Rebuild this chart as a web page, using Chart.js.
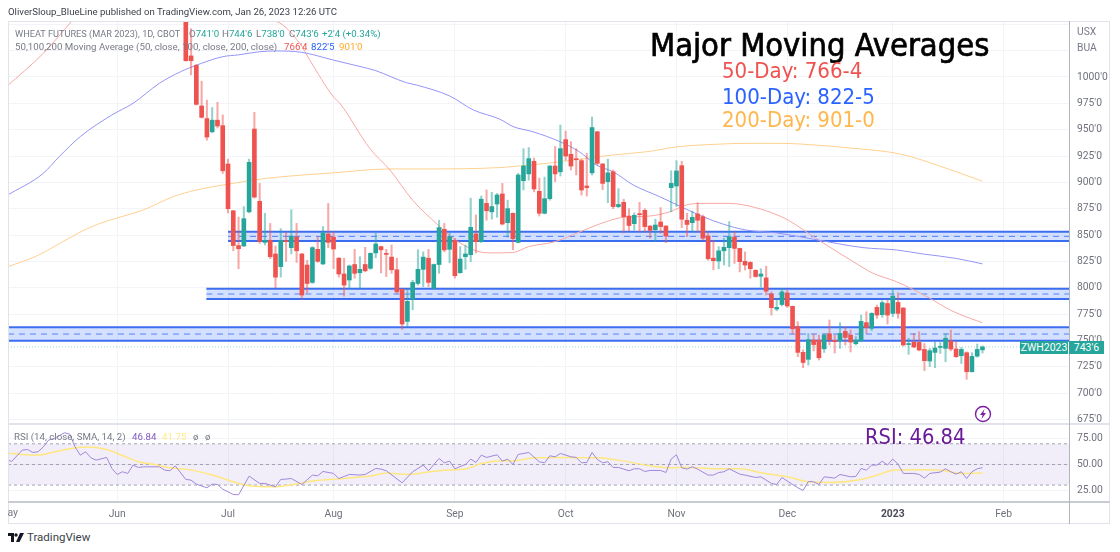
<!DOCTYPE html>
<html>
<head>
<meta charset="utf-8">
<script src="https://cdn.jsdelivr.net/npm/chart.js@4"></script>
<style>
  html, body { margin: 0; padding: 0; background: #fff; }
  #page { position: relative; width: 1120px; height: 552px; overflow: hidden; font-family: Roboto, sans-serif; }
  canvas { position: absolute; left: 0; }
  .t { position: absolute; white-space: nowrap; line-height: 1; }
  .rule { position: absolute; background: #e0e3eb; }
  .leg { font-size: 9.7px; color: #787b86; }
  .big { font-family: "DejaVu Sans Condensed", "DejaVu Sans", sans-serif; }
</style>
</head>
<body>
<div id="page">
  <canvas id="priceChart" width="1120" height="424" style="top:0"></canvas>
  <canvas id="rsiChart" width="1120" height="100" style="top:424px"></canvas>

  <div class="rule" style="left:8px;top:21px;width:1102px;height:1px"></div>
  <div class="rule" style="left:8px;top:21px;width:1px;height:503px"></div>
  <div class="rule" style="left:8px;top:523px;width:1102px;height:1px"></div>
  <div class="rule" style="left:1109px;top:21px;width:1px;height:503px"></div>
  <div class="rule" style="left:8px;top:423px;width:1102px;height:2px"></div>
  <div class="rule" style="left:8px;top:501px;width:1102px;height:2px;background:#c9cbd3"></div>
  <div class="rule" style="left:1069px;top:21px;width:1px;height:503px;background:#b2b5be"></div>

  <div class="t" style="left:8px;top:7px;font-size:9.65px;color:#3c3f48">OliverSloup_BlueLine published on TradingView.com, Jan 26, 2023 12:26 UTC</div>

  <div class="t leg" style="left:15px;top:29px;font-size:9.2px">WHEAT FUTURES (MAR 2023), 1D, CBOT</div>
  <div class="t leg" style="left:189px;top:29px">O<span style="color:#26a69a">741'0</span></div>
  <div class="t leg" style="left:222px;top:29px">H<span style="color:#26a69a">744'6</span></div>
  <div class="t leg" style="left:256px;top:29px">L<span style="color:#26a69a">738'0</span></div>
  <div class="t leg" style="left:289px;top:29px">C<span style="color:#26a69a">743'6</span></div>
  <div class="t leg" style="left:322px;top:29px;color:#26a69a">+2'4 (+0.34%)</div>
  <div class="t leg" style="left:15px;top:42px">50,100,200 Moving Average (50, close, 100, close, 200, close)</div>
  <div class="t leg" style="left:284px;top:42px;color:#ef5350">766'4</div>
  <div class="t leg" style="left:311px;top:42px;color:#2962ff">822'5</div>
  <div class="t leg" style="left:339px;top:42px;color:#ffa726">901'0</div>

  <div class="t leg" style="left:14px;top:432px">RSI (14, close, SMA, 14, 2)</div>
  <div class="t leg" style="left:132px;top:432px;color:#7e57c2">46.84</div>
  <div class="t leg" style="left:162px;top:432px;color:#ffeb80">41.75</div>
  <div class="t leg" style="left:193px;top:432px">ø</div>
  <div class="t leg" style="left:205px;top:432px">ø</div>

  <div class="t" style="left:1077px;top:27px;font-size:10.3px;color:#787b86">USX</div>
  <div class="t" style="left:1077px;top:43px;font-size:10.3px;color:#787b86">BUA</div>

  <div class="t big" style="left:650px;top:29px;font-size:32.4px;color:#000;-webkit-text-stroke:.7px #000">Major Moving Averages</div>
  <div class="t big" style="left:722px;top:60px;font-size:22px;color:#ef5350">50-Day: 766-4</div>
  <div class="t big" style="left:722px;top:86px;font-size:22px;color:#2962ff">100-Day: 822-5</div>
  <div class="t big" style="left:722px;top:109px;font-size:22px;color:#ffb74d">200-Day: 901-0</div>
  <div class="t big" style="left:865px;top:426px;font-size:21.7px;color:#6a1b9a">RSI: 46.84</div>

  <div class="t" style="left:1020px;top:341px;width:48px;height:13px;line-height:13px;background:#26a69a;color:#fff;font-size:10.5px;text-align:center">ZWH2023</div>
  <div class="t" style="left:1069px;top:341px;width:35px;height:13px;line-height:13px;background:#26a69a;color:#fff;font-size:10.5px;text-align:center">743'6</div>

  <svg style="position:absolute;left:974px;top:405px" width="18" height="18" viewBox="0 0 18 18">
    <circle cx="9" cy="9" r="7.5" fill="#fff" stroke="#7b1fa2" stroke-width="1.4"/>
    <path d="M10.5 4 L6 10 H8.6 L7.5 14 L12 8 H9.4 Z" fill="#7b1fa2"/>
  </svg>

  <div class="t" style="left:8px;top:508px;width:10px;overflow:hidden;direction:rtl;font-size:10.5px;color:#787b86">May</div>

  <svg style="position:absolute;left:8px;top:533px" width="16" height="10" viewBox="0 0 16 10">
    <path d="M0 0 H6 V9 H3 V3 H0 Z" fill="#131722"/>
    <circle cx="8" cy="2" r="1.7" fill="#131722"/>
    <path d="M12 0 H16 L11.5 9 H8 Z" fill="#131722"/>
  </svg>
  <div class="t" style="left:27px;top:532px;font-size:11.5px;color:#3c3f48">TradingView</div>
</div>

<script>
// candles, bar 0 is the one running off the top of the pane
const opens = [
  1075, 1020, 1011, 972.5, 960.5, 948, 959, 953.8, 917.4, 873,
  840, 839.6, 872, 950.6, 882, 843, 845, 832, 820, 844.3,
  838, 848, 832, 821.5, 805, 836.4, 822.5, 851, 848, 828,
  813, 807.3, 822, 814.2, 822, 818.4, 833, 839, 832.3, 829,
  817, 798.4, 768, 789, 804, 817.4, 828, 799.4, 822, 855.4,
  836.4, 845, 814.2, 829.4, 831.3, 851, 843.7, 880, 872, 879.4,
  889, 861.7, 870.6, 843, 901.6, 908, 920, 891.5, 870.6, 884.5,
  915.5, 910, 940.5, 926.6, 922, 920.6, 896.5, 909, 948, 917.4,
  900.6, 910, 877, 881, 868, 860.8, 870, 873.4, 858.5, 855,
  862.3, 858.5, 895, 896.5, 915.8, 864, 861.7, 870, 867.4, 849,
  828, 825.3, 835, 838, 848, 837.3, 825, 824, 816.5, 810.8,
  809.3, 794, 779.7, 784, 795, 782.3, 763, 738.6, 732, 750.3,
  750.3, 742, 756.3, 750, 749.7, 758.5, 755, 746.8, 749.7, 766.8,
  761.4, 781.3, 774.4, 785, 775.6, 786, 780.7, 746, 748.4, 748,
  741.4, 730.4, 738.6, 743.3, 742.4, 749.4, 741.8, 735.4, 738.3, 720.2,
  735, 741
];
const highs = [
  1078, 1046, 1012, 996, 978, 971, 976, 964, 922, 873.5,
  867, 877, 922, 966.5, 899, 870.6, 861, 839.6, 856, 852.5,
  874, 861, 832.5, 826, 839, 848.4, 858, 880, 853, 828.5,
  828, 821.5, 836.4, 829.4, 838.3, 833, 851.6, 839.5, 836.4, 840.5,
  828, 799, 798, 807, 836, 834, 836.4, 822.5, 864, 861,
  851.6, 846.8, 839, 840.5, 885, 869, 887, 892.7, 890.5, 889.5,
  899, 883, 871, 908.5, 932, 933, 923, 904, 905, 916,
  934, 954.4, 948.7, 938.6, 932, 922, 927.5, 962, 948.5, 918,
  922, 911.7, 894, 884, 875, 871, 881, 875, 859, 865,
  876, 859, 911, 920.6, 920, 870.6, 872.8, 880.7, 869, 853,
  845, 839, 846.8, 862.7, 853, 837.5, 834, 824.7, 817, 818,
  820.4, 796, 790, 799.4, 798, 782.6, 767.7, 741, 756.6, 756,
  755, 756.6, 769.3, 755, 766.8, 763, 759.8, 753.5, 774, 777.2,
  776.3, 783.5, 787.6, 788.3, 798.7, 795.2, 781, 752, 756.6, 758.2,
  747, 742.4, 748.7, 748, 756.6, 759.8, 748.7, 743.3, 739.2, 738.3,
  746.5, 744.75
];
const lows = [
  1015, 1002, 973.5, 961, 940, 947, 951.6, 908.5, 871, 835,
  818, 839, 871, 885, 842, 840.5, 827.5, 800, 810, 825,
  832, 824, 789, 795, 804, 824, 822, 838, 818, 810,
  792, 799.4, 809, 799.4, 815, 817.4, 828.5, 814, 810.5, 813.6,
  794.6, 760.4, 763, 779, 802.5, 801, 801, 799, 813.6, 834,
  823.7, 809, 813.6, 817.4, 824.7, 833, 842.7, 864, 865, 866.8,
  859.5, 848, 836, 842.5, 892.7, 902, 891, 868, 870, 883,
  900.6, 906, 921, 911.7, 907, 888, 887, 907, 916.5, 893,
  880.7, 875, 876, 852, 854, 854.7, 853, 853, 847, 843.7,
  851.6, 842.7, 872, 877, 857, 848.4, 853, 853, 845, 826,
  817, 818, 821.5, 820, 823, 815, 816.8, 809, 810, 800.5,
  793, 774, 778, 782.6, 781.3, 756, 734.5, 724, 726.6, 740,
  731.3, 738.6, 745.6, 738, 742.4, 745.6, 739, 745.6, 748.7, 756.6,
  759.2, 770.9, 771.8, 765.5, 772.5, 771, 744.6, 736.7, 743, 740,
  721.2, 725, 724, 737.6, 729.7, 740, 733.8, 728, 713, 720,
  734, 738
];
const closes = [
  1015.5, 1015.5, 974, 961.7, 943, 959, 953.5, 911, 875, 840,
  837, 865.5, 919, 886, 844, 845, 829.4, 810, 845, 843.7,
  849, 835, 793, 804, 838, 825, 852, 843, 836.7, 813,
  802.5, 820.6, 813.6, 817.4, 816, 832.6, 841.5, 836, 831.6, 817,
  796, 765.5, 787, 805, 817.4, 829, 805, 822, 857, 835.8,
  848.4, 811.4, 827.2, 832, 857.3, 843.7, 884, 873, 877, 888,
  860.4, 875, 846.5, 907, 915.5, 922.5, 893.7, 870.6, 884.5, 915.5,
  908, 932, 925, 915.5, 921.5, 892.7, 895, 952, 918, 899,
  909, 877, 879, 867.4, 859, 868.7, 869.3, 858, 854.4, 859.5,
  858, 849, 899, 910.8, 865, 860, 866.8, 864, 847, 827.5,
  825.6, 835, 838.3, 848.4, 837.3, 824.7, 821.5, 818, 810.6, 813,
  796.7, 781, 781.3, 796, 782.6, 761, 738.6, 729, 750.6, 746,
  733.5, 755, 750.6, 748.7, 756.6, 752.8, 748.4, 750.3, 768, 762.3,
  775.6, 774, 785.8, 774, 792, 775.6, 745.6, 747, 743.7, 740.8,
  730.7, 740.2, 742.7, 744, 752, 741.8, 734.5, 741.4, 720.2, 734.8,
  741.4, 743.75
];

const ma50Bars = [-34, -27, -21.7, -18.2, 17.2, 21.6, 23.5, 28, 29.2, 34.9, 38.7, 43, 47.8, 50.7, 55, 58.2, 62, 65, 70, 74.7, 79.7, 82.9, 87.9, 91.7, 94.9, 97.4, 103, 108, 112.6, 114.2, 120, 126.5, 130.3, 134.7, 141, 144.8, 148.6, 151];
const ma50Vals = [990.8, 1022.5, 1052.6, 1073, 1052.6, 1032, 1016, 981, 975, 932, 911.7, 883, 859.5, 846.8, 835, 833, 833.4, 839, 843.7, 853, 862.7, 866.8, 868, 872, 878.5, 880, 880, 876, 868, 864, 845, 824.7, 813.6, 805.7, 790, 779, 771, 766.8];
const ma100Bars = [-34, -27, -24, -20, -14, -10, -5, -1, 3, 7, 10, 14, 17, 22, 28, 33, 36, 41.8, 43.7, 50, 54.5, 59.5, 62, 65.8, 70.9, 74.6, 77.8, 81, 84.8, 89.8, 93.6, 98, 101.8, 106.2, 112, 119, 128.4, 134.7, 139.7, 146, 151];
const ma100Vals = [887.3, 908.6, 924.4, 943.4, 964, 975, 994, 1005, 1013, 1019.3, 1021, 1024, 1024.7, 1023.4, 1016, 1010, 1006, 994.6, 992.4, 982, 968.7, 960, 953, 948, 938.6, 929, 916.5, 910, 897.5, 886.4, 877.5, 867.4, 860.4, 854.7, 852, 846, 838, 835.8, 832, 827.8, 822.6];
const ma200Bars = [-33.7, -28.3, -23.9, -19.5, -16.3, -13.1, -8.1, -2.4, 2, 7.7, 15.3, 27.9, 38.7, 46.9, 59.5, 62, 68.3, 74.7, 81, 87.3, 93.6, 100, 106, 112.6, 116.4, 125.9, 135.3, 142.9, 151];
const ma200Vals = [820, 830, 842, 854, 861, 866, 873.7, 886.4, 892.7, 898, 903.8, 909, 912.7, 912.7, 914, 915, 918, 922, 926, 929, 934, 936, 937, 937, 936.4, 932.6, 927, 915.5, 901];

// blue support and resistance zones
const zoneFrom = [8, 3.9, -33.7];
const zoneTop = [853.2, 799, 762.4];
const zoneMid = [848.7, 794, 756];
const zoneBottom = [844.3, 789.2, 749.6];

// RSI pane
const rsiBars = [-34, -33, -31, -30, -29, -28, -27, -26, -25, -23, -22, -21, -20, -19, -18, -17, -15, -14, -13, -12, -11, -10, -9, -8, -5, -4, -3, -2, 0, 1, 2, 4, 5, 6, 7, 9, 10, 12, 14, 15, 17, 18, 19, 20, 22, 24, 25, 26, 28, 29, 31, 33, 34, 36, 37, 38, 41, 43, 45, 46, 48, 49, 50, 51, 53, 54, 55, 56, 57, 59, 60, 61, 62, 63, 65, 67, 68, 69, 70, 71, 73, 74, 75, 76, 77, 78, 79, 80, 81, 82, 84, 85, 86, 87, 88, 90, 91, 92, 93, 94, 95, 96, 97, 99, 100, 101, 102, 103, 105, 106, 108, 109, 111, 112, 113, 114, 116, 117, 118, 119, 120, 121, 123, 124, 126, 127, 128, 129, 130, 131, 132, 133, 134, 135, 136, 138, 139, 140, 141, 143, 144, 145, 146, 147, 148, 149, 150, 151];
const rsiVals = [54.8, 52.9, 63.9, 64.5, 61.6, 62.3, 67.1, 73.6, 75, 80.7, 79.4, 67.1, 59, 62.3, 56.5, 54.2, 56.8, 46.1, 40.3, 42.9, 41.3, 49.4, 47.1, 47.7, 47.7, 44.5, 43.9, 48.7, 35.5, 34.8, 30.9, 27.4, 30.9, 30.6, 26.1, 20.9, 20.6, 38.7, 31.6, 31.6, 28.4, 35.5, 35.8, 36.4, 30.6, 39.7, 39, 43.2, 41.3, 36.4, 40.3, 39.7, 40.3, 46.1, 45.5, 43.9, 32.2, 42.9, 49.4, 43.9, 55.8, 51.6, 53.2, 45.8, 50, 55.2, 51.9, 59, 56.8, 59.4, 53.2, 55.2, 50, 59.7, 61.6, 52.6, 51.6, 58.4, 57.4, 60.7, 57.4, 56.8, 51.6, 51.9, 61.6, 54.8, 51.6, 52.6, 47.1, 47.1, 43.9, 45.8, 45.8, 43.2, 44.2, 44.2, 42.2, 55.2, 59.4, 46.8, 45.5, 47.7, 45.5, 39.7, 39.7, 42.2, 42.9, 45.8, 40.6, 39.7, 37.4, 38, 31.6, 30.6, 37.4, 33.9, 27.4, 24.8, 33.5, 33.2, 30.6, 38, 36.8, 40.3, 38, 38.4, 46.1, 44.5, 49.4, 49.4, 53.2, 49.4, 55.2, 50.3, 41.3, 41.3, 40.3, 36.8, 41.3, 42.6, 45.8, 42.9, 40.6, 42.9, 36.4, 42.9, 45.8, 46.84];
const smaBars = [-34, -31, -28, -25, -22, -19, -15, -12, -9, -6, -3, 1, 5, 9, 12, 17, 21, 24, 30, 35, 38, 42, 46, 49, 53, 56, 60, 62, 66, 71, 78, 82, 88, 92, 96, 100, 105, 109, 114, 118, 122, 128, 132, 134, 139, 143, 147, 151];
const smaVals = [61.3, 59.7, 59.1, 62, 65.2, 66.8, 64.5, 58.7, 52.6, 50, 46.8, 44.5, 39.7, 33.2, 29.4, 28.4, 31, 33.9, 36.4, 38.7, 41.6, 40.3, 42.6, 44.5, 45.5, 50.9, 53.5, 53.5, 56.5, 56.8, 56.5, 54.2, 48.7, 46.8, 47.1, 45.8, 45.8, 41.9, 38, 33.2, 32.6, 35.5, 41.3, 44.5, 44.8, 44.5, 41.3, 41.75];
const rsiLevels = [70, 50, 30];

// axes
const priceTicks = [675, 700, 725, 750, 775, 800, 825, 850, 875, 900, 925, 950, 975, 1000, 1025, 1050];
const rsiTicks = [25, 50, 75];
const monthBars = [-13, 8, 28, 51, 72, 93, 114, 134, 155];
const monthNames = ["Jun", "Jul", "Aug", "Sep", "Oct", "Nov", "Dec", "2023", "Feb"];

const xMin = -33.7, xMax = 167.4;
const GRID = "#f3f4f8", AXIS_TEXT = "#6f727c";
const UP = "#26a69a", DOWN = "#ef5350", UP_WICK = "rgba(38,166,154,.5)", DOWN_WICK = "rgba(239,83,80,.5)";
const TICK_FONT = { family: "Roboto, sans-serif", size: 10.3 };
const SMOOTH = { cubicInterpolationMode: "monotone" };

function isUp(i) { return closes[i] >= opens[i]; }
function pairs(xs, ys) { return xs.map((x, i) => ({ x: x, y: ys[i] })); }
function flat(from, y) { return [{ x: from, y: y }, { x: xMax, y: y }]; }

function line(data, color, width, order, extra) {
  return Object.assign({ type: "line", data: data, borderColor: color, borderWidth: width, pointRadius: 0, tension: 0, order: order, fill: false }, extra);
}

function xScale(showLabels) {
  return {
    type: "linear", min: xMin, max: xMax, offset: false,
    afterBuildTicks: s => { s.ticks = monthBars.map(v => ({ value: v })); },
    afterFit: s => { s.height = showLabels ? 22.5 : 0; },
    grid: { color: GRID, offset: false, drawTicks: false },
    border: { display: false },
    ticks: {
      display: showLabels, autoSkip: false, maxRotation: 0, padding: 7,
      color: c => c.tick.label === "2023" ? "#4a4d57" : AXIS_TEXT,
      font: c => c.tick && c.tick.label === "2023" ? Object.assign({ weight: "bold" }, TICK_FONT) : TICK_FONT,
      callback: v => monthNames[monthBars.indexOf(v)]
    }
  };
}

function yScale(min, max, tickList, fmt) {
  return {
    position: "right", min: min, max: max,
    afterBuildTicks: s => { s.ticks = tickList.map(v => ({ value: v })); },
    // keep the panes exact: no room for half a tick label above or below
    afterFit: s => { s.width = 41; s.paddingTop = 0; s.paddingBottom = 0; },
    grid: { color: GRID, drawTicks: false },
    border: { display: false },
    ticks: { color: AXIS_TEXT, font: TICK_FONT, padding: 8, callback: fmt }
  };
}

const zoneSets = [];
zoneFrom.forEach((from, i) => {
  zoneSets.push(line(flat(from, zoneTop[i]), "#3d6ef0", 2, 6, { fill: "+1", backgroundColor: "rgba(41,98,255,.2)" }));
  zoneSets.push(line(flat(from, zoneBottom[i]), "#3d6ef0", 2, 6));
  zoneSets.push(line(flat(from, zoneMid[i]), "#5f8af5", 1, 6, { borderDash: [6, 5] }));
});

new Chart(document.getElementById("priceChart"), {
  data: {
    datasets: [
      ...zoneSets,
      line(flat(xMin, closes[closes.length - 1]), "rgba(38,166,154,.45)", 1, 5, { borderDash: [1, 2] }),
      line(pairs(ma200Bars, ma200Vals), "#ffd08f", 1, 4, SMOOTH),
      line(pairs(ma100Bars, ma100Vals), "#9494f7", 1, 3, SMOOTH),
      line(pairs(ma50Bars, ma50Vals), "#f8a8a4", 1, 3, SMOOTH),
      {
        type: "bar", order: 2, grouped: false, barThickness: 1.4,
        data: lows.map((l, i) => ({ x: i, y: [l, highs[i]] })),
        backgroundColor: c => isUp(c.dataIndex) ? UP_WICK : DOWN_WICK
      },
      {
        type: "bar", order: 1, grouped: false, barThickness: 4, minBarLength: 1,
        data: opens.map((o, i) => ({ x: i, y: [o, closes[i]] })),
        backgroundColor: c => isUp(c.dataIndex) ? UP : DOWN
      }
    ]
  },
  options: {
    responsive: false, animation: false, events: [],
    layout: { padding: { left: 8, right: 10, top: 22, bottom: 0 } },
    plugins: { legend: { display: false }, tooltip: { enabled: false } },
    scales: {
      x: xScale(false),
      y: yScale(670.6, 1052.2, priceTicks, v => v > 1000 ? "" : v + "'0")
    }
  }
});

new Chart(document.getElementById("rsiChart"), {
  data: {
    datasets: [
      line(flat(xMin, rsiLevels[0]), "#a3a6af", 1, 4, { borderDash: [3, 3], fill: { target: { value: rsiLevels[2] } }, backgroundColor: "rgba(126,87,194,.1)" }),
      line(flat(xMin, rsiLevels[1]), "#a3a6af", 1, 4, { borderDash: [3, 3] }),
      line(flat(xMin, rsiLevels[2]), "#a3a6af", 1, 4, { borderDash: [3, 3] }),
      line(pairs(smaBars, smaVals), "#ffe780", 1.5, 2, SMOOTH),
      line(pairs(rsiBars, rsiVals), "#a088da", 1, 1)
    ]
  },
  options: {
    responsive: false, animation: false, events: [],
    layout: { padding: { left: 8, right: 10, top: 0, bottom: 0 } },
    plugins: { legend: { display: false }, tooltip: { enabled: false } },
    scales: {
      x: xScale(true),
      y: yScale(14.1, 89.2, rsiTicks, v => v.toFixed(2))
    }
  }
});
</script>
</body>
</html>
